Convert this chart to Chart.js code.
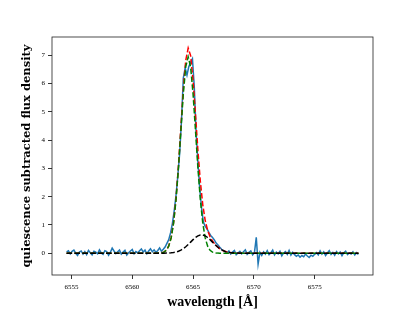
<!DOCTYPE html>
<html>
<head>
<meta charset="utf-8">
<script src="https://cdn.jsdelivr.net/npm/chart.js@4"></script>
<style>
  html, body { margin: 0; padding: 0; background: #fff; }
  canvas { display: block; }
</style>
</head>
<body>
<canvas id="specChart" width="415" height="311"></canvas>
<script>
// observed spectrum, sampled every 0.15 A from 6554.6 A
const obsStart = 6554.6;
const obsStep = 0.15;
const obsFlux = [
  0.05, 0.09, -0.02, 0.07, 0.11, 0.00, -0.08, 0.04, 0.08, -0.03,
  0.06, -0.05, 0.10, 0.02, -0.06, 0.07, 0.04, -0.02, 0.12, 0.01,
  -0.04, 0.09, 0.06, -0.07, 0.03, 0.18, 0.08, -0.01, 0.05, 0.11,
  -0.03, 0.04, 0.10, -0.06, 0.02, 0.08, 0.13, -0.02, 0.06, 0.01,
  0.09, 0.15, 0.04, 0.11, -0.02, 0.08, 0.16, 0.05, 0.12, 0.03,
  0.10, 0.19, 0.07,
  0.14, 0.22, 0.35, 0.48, 0.72, 1.05, 1.50, 2.05, 2.75, 3.55,
  4.70, 6.20, 6.55, 6.30, 6.60, 6.75, 6.88, 5.90, 4.30, 3.20,
  2.30, 1.60, 1.10, 0.95, 0.86, 0.74, 0.63, 0.56, 0.47, 0.36,
  0.29, 0.21, 0.14, 0.09,
  0.06, 0.02, 0.08, -0.03, 0.04, 0.10, -0.05, 0.01, 0.07, -0.02,
  0.05, 0.12, -0.04, 0.03, 0.08, -0.06, 0.02,
  0.56, -0.38,
  0.03, -0.08, 0.05, -0.03, 0.09, -0.05, 0.02, 0.11, -0.06, 0.04,
  -0.02, 0.07, -0.09, 0.01, 0.06, -0.04, 0.10, -0.07, 0.03, -0.05,
  -0.11, -0.06, -0.14, -0.08, -0.12, -0.03, -0.10, -0.15, -0.07, -0.11,
  -0.04, 0.02, -0.06, 0.08, -0.03, 0.05, -0.08, 0.01, 0.09, -0.04,
  0.03, -0.07, 0.06, -0.02, 0.04, -0.09, 0.02, 0.07, -0.05, 0.01,
  -0.03, 0.05, -0.06, 0.02, -0.04
];

// model curves
const modelWave = [
  6554.6, 6556, 6558, 6560, 6561, 6561.6,
  6562.0, 6562.2, 6562.4, 6562.6, 6562.8, 6563.0, 6563.2, 6563.4, 6563.6, 6563.8,
  6564.0, 6564.2, 6564.4, 6564.6, 6564.8, 6565.0, 6565.2, 6565.4, 6565.6, 6565.8,
  6566.0, 6566.2, 6566.4, 6566.6, 6566.8, 6567.0, 6567.2, 6567.4, 6567.6, 6567.8,
  6568.0, 6568.5, 6569, 6570, 6572, 6574, 6576, 6578.6
];
const totalFit = [
  0, 0, 0, 0, 0, 0,
  0.001, 0.004, 0.014, 0.040, 0.107, 0.256, 0.557, 1.093, 1.936, 3.093,
  4.460, 5.806, 6.827, 7.258, 6.992, 6.124, 4.908, 3.638, 2.539, 1.714,
  1.158, 0.806, 0.583, 0.432, 0.321, 0.233, 0.163, 0.109, 0.070, 0.043,
  0.025, 0.005, 0.001, 0, 0, 0, 0, 0
];
const narrowFit = [
  0, 0, 0, 0, 0, 0,
  0.001, 0.004, 0.013, 0.038, 0.103, 0.249, 0.543, 1.068, 1.893, 3.023,
  4.351, 5.644, 6.598, 6.950, 6.598, 5.644, 4.351, 3.023, 1.893, 1.068,
  0.543, 0.249, 0.103, 0.038, 0.013, 0.004, 0.001, 0, 0, 0,
  0, 0, 0, 0, 0, 0, 0, 0
];
const broadFit = [
  0, 0, 0, 0, 0, 0,
  0, 0, 0.001, 0.002, 0.004, 0.007, 0.014, 0.025, 0.043, 0.070,
  0.109, 0.162, 0.229, 0.308, 0.394, 0.480, 0.557, 0.615, 0.646, 0.646,
  0.615, 0.557, 0.480, 0.394, 0.308, 0.229, 0.162, 0.109, 0.070, 0.043,
  0.025, 0.005, 0.001, 0, 0, 0, 0, 0
];

const xTicks = [6555, 6560, 6565, 6570, 6575];
const yTicks = [0, 1, 2, 3, 4, 5, 6, 7];

const obsWave = obsFlux.map((_, i) => +(obsStart + obsStep * i).toFixed(2));
const pts = (xs, ys) => xs.map((x, i) => ({ x: x, y: ys[i] }));

const serif = '"Liberation Serif", "DejaVu Serif", serif';
const dash = [5.5, 2.4];

const frame = {
  id: 'frame',
  afterDraw(chart) {
    const a = chart.chartArea;
    const c = chart.ctx;
    c.save();
    c.strokeStyle = '#222';
    c.lineWidth = 0.8;
    c.strokeRect(a.left, a.top, a.right - a.left, a.bottom - a.top);
    c.restore();
  }
};

new Chart(document.getElementById('specChart'), {
  type: 'line',
  data: {
    datasets: [
      { data: pts(modelWave, broadFit), borderColor: '#000000', borderDash: dash, order: 0 },
      { data: pts(modelWave, narrowFit), borderColor: '#008000', borderDash: dash, order: 1 },
      { data: pts(modelWave, totalFit), borderColor: '#ff0000', borderDash: dash, order: 2 },
      { data: pts(obsWave, obsFlux), borderColor: '#1f77b4', order: 3 }
    ]
  },
  options: {
    responsive: false,
    devicePixelRatio: 1,
    animation: false,
    layout: { padding: { top: 37, right: 42, left: 0, bottom: 0 } },
    elements: {
      point: { radius: 0 },
      line: { borderWidth: 1.5, tension: 0, fill: false }
    },
    plugins: { legend: { display: false }, tooltip: { enabled: false } },
    scales: {
      x: {
        type: 'linear',
        min: 6553.4,
        max: 6579.8,
        afterFit: s => { s.height = 36; },
        afterBuildTicks: s => { s.ticks = xTicks.map(v => ({ value: v })); },
        border: { display: false },
        grid: { drawOnChartArea: false, drawTicks: true, tickLength: 4, tickColor: '#000', tickWidth: 0.8 },
        ticks: {
          color: '#000',
          padding: 4,
          maxRotation: 0,
          font: { family: serif, size: 7 },
          callback: v => String(v)
        },
        title: {
          display: true,
          text: 'wavelength [Å]',
          color: '#000',
          font: { family: serif, size: 14, weight: 'bold' },
          padding: { top: 3, bottom: 0 }
        }
      },
      y: {
        min: -0.77,
        max: 7.65,
        afterFit: s => { s.width = 52; },
        afterBuildTicks: s => { s.ticks = yTicks.map(v => ({ value: v })); },
        border: { display: false },
        grid: { drawOnChartArea: false, drawTicks: true, tickLength: 4, tickColor: '#000', tickWidth: 0.8 },
        ticks: {
          color: '#000',
          padding: 3,
          font: { family: serif, size: 7 },
          callback: v => String(v)
        },
        title: {
          display: true,
          text: 'quiescence subtracted flux density',
          color: '#000',
          font: { family: '"DejaVu Serif", serif', size: 11.5, weight: 'bold' },
          padding: { top: 20, bottom: 0 }
        }
      }
    }
  },
  plugins: [frame]
});
</script>
</body>
</html>
